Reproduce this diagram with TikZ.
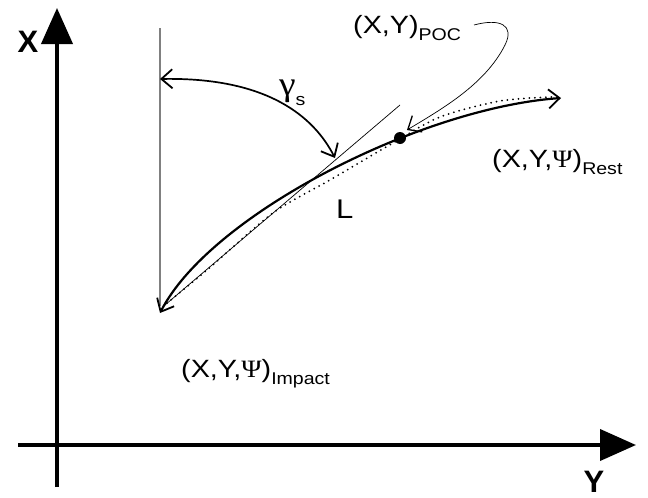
\documentclass[tikz,border=0pt]{standalone}
\usepackage{fontspec}
\setmainfont[FakeStretch=1.15]{Liberation Sans}
\newfontfamily\grk[FakeStretch=1.1]{Liberation Serif}
\newfontfamily\axfont{Liberation Sans}
\usetikzlibrary{arrows.meta}
\newcommand{\lowsub}[1]{\raisebox{-0.3em}{\fontsize{17}{17}\selectfont #1}}
\tikzset{
  axis/.style={line width=4pt,-{Triangle[length=36pt,width=31pt]}},
  thick curve/.style={line width=2.2pt},
  thin line/.style={line width=0.7pt},
  myv/.tip={Straight Barb[length=11pt,width=19pt,line width=1.8pt]},
  myw/.tip={Straight Barb[length=11pt,width=19pt,line width=1.3pt]},
  lbl/.style={inner sep=0pt,anchor=base west,font=\fontsize{25}{28}\selectfont},
  axlbl/.style={inner sep=0pt,font=\fontsize{31}{31}\selectfont\axfont\bfseries}
}
\begin{document}
\begin{tikzpicture}[x=1pt,y=-1pt]
\useasboundingbox[fill=white] (0,0) rectangle (648,498);
% axes
\coordinate (xo) at (57,487);
\coordinate (xt) at (57,8);
\coordinate (yo) at (18,445);
\coordinate (yt) at (636,445);
\draw[axis] (xo) -- (xt);
\draw[axis] (yo) -- (yt);
\node[axlbl] (xl) at (28,42) {X};
\node[axlbl] (yl) at (594,482) {Y};
% vertical reference line
\coordinate (v1) at (160,28);
\coordinate (v2) at (160,306);
\draw[gray,line width=1.2pt] (v1) -- (v2);
% chord
\coordinate (c1) at (400,105);
\coordinate (c2) at (165,305);
\draw[thin line] (c1) -- (c2);
% dotted path
\draw[line width=2pt,dash pattern=on 0pt off 5.5pt,line cap=round]
  plot[smooth] coordinates {(167,303) (207,270) (273,213) (330,180) (393,143) (440,117) (500,101) (552,97)};
% solid trajectory
\coordinate (a) at (160,313);
\coordinate (b) at (561,98);
\draw[thick curve,myv-myv] (a) .. controls (210,215) and (420,108) .. (b);
% point of contact
\node[circle,fill=black,inner sep=0pt,minimum size=12pt] (poc) at (400,138) {};
% gamma arc
\coordinate (g1) at (160,79);
\coordinate (g2) at (335,158);
\draw[line width=1.7pt,myv-myv] (g1) .. controls (268,77) and (314,117) .. (g2);
\node[inner sep=0pt,anchor=base west] (gam) at (279,95) {\fontsize{34}{34}\selectfont\grk γ\lowsub{\rmfamily s}};
% labels
\node[lbl] (poclbl) at (353,33) {(X,Y)\lowsub{POC}};
\node[lbl] (rest) at (492,167) {(X,Y,{\grk Ψ})\lowsub{Rest}};
\node[lbl] (imp) at (181,377) {(X,Y,{\grk Ψ})\lowsub{Impact}};
\node[lbl,font=\fontsize{27}{28}\selectfont] (L) at (336,218) {L};
% POC leader
\coordinate (p0) at (474,25);
\coordinate (pm) at (505,45);
\coordinate (pt) at (407,130);
\draw[thin line,-myw] (p0) .. controls (500,18) and (515,25) .. (pm) .. controls (485,85) and (440,110) .. (pt);
\end{tikzpicture}
\end{document}
